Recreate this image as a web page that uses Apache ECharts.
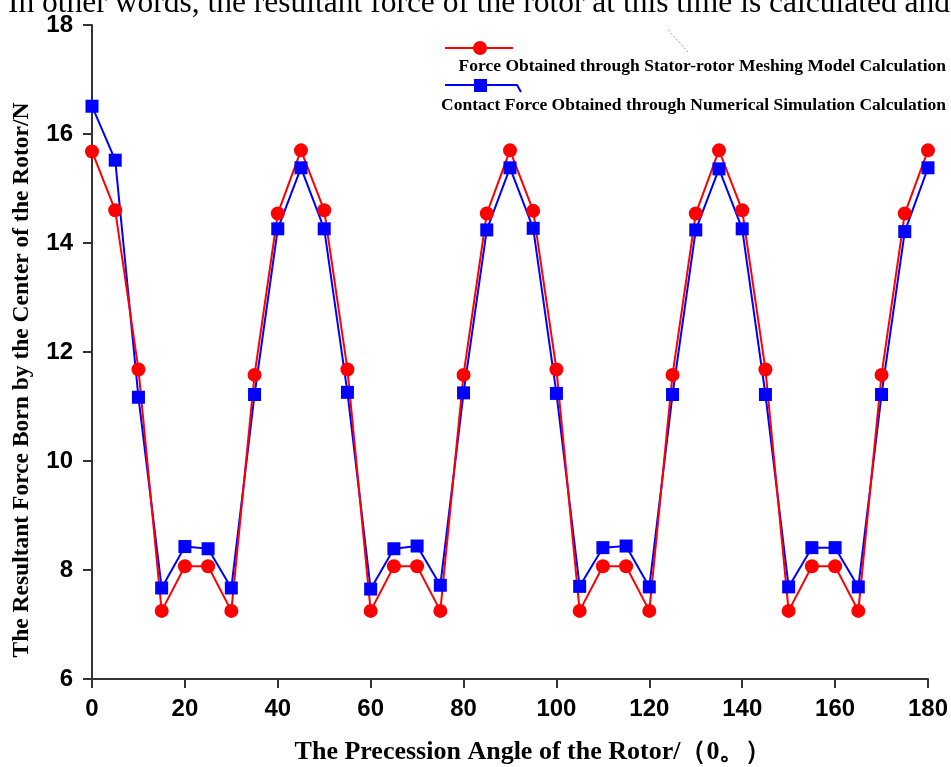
<!DOCTYPE html>
<html>
<head>
<meta charset="utf-8">
<script src="https://cdn.jsdelivr.net/npm/echarts@6/dist/echarts.min.js"></script>
<style>
html,body{margin:0;padding:0;background:#fff;}
#main{width:951px;height:767px;}
</style>
</head>
<body>
<div id="main"></div>
<script>
// Precession angle (degrees)
var angles = [0,5,10,15,20,25,30,35,40,45,50,55,60,65,70,75,80,85,90,95,100,105,110,115,120,125,130,135,140,145,150,155,160,165,170,175,180];
// Force from stator-rotor meshing model (N)
var meshingForce = [15.68,14.60,11.68,7.25,8.07,8.07,7.25,11.58,14.54,15.70,14.60,11.68,7.25,8.07,8.07,7.25,11.58,14.54,15.70,14.59,11.68,7.25,8.07,8.07,7.25,11.58,14.54,15.70,14.60,11.68,7.25,8.07,8.07,7.25,11.58,14.54,15.70];
// Contact force from numerical simulation (N)
var simulationForce = [16.51,15.52,11.17,7.67,8.43,8.39,7.67,11.22,14.26,15.38,14.26,11.26,7.65,8.39,8.44,7.72,11.25,14.24,15.38,14.27,11.24,7.70,8.41,8.44,7.69,11.22,14.24,15.36,14.26,11.22,7.69,8.41,8.41,7.69,11.22,14.21,15.38];
var xTicks = [0,20,40,60,80,100,120,140,160,180];
var yTicks = [6,8,10,12,14,16,18];
var seriesNames = ['Force Obtained through Stator-rotor Meshing Model Calculation','Contact Force Obtained through Numerical Simulation Calculation'];
var xTitle = 'The Precession Angle of the Rotor/（0。）';
var yTitle = 'The Resultant Force Born by the Center of the Rotor/N';
var topText = 'In other words, the resultant force of the rotor at this time is calculated and';

function pairs(xs, ys){ return xs.map(function(x,i){ return [x, ys[i]]; }); }

var chart = echarts.init(document.getElementById('main'), null, {renderer:'canvas'});
var tickFont = {fontFamily:'Liberation Sans', fontWeight:'bold', fontSize:24, color:'#000'};
var option = {
  backgroundColor:'#fff',
  animation:false,
  grid:{left:92, right:23, top:25, bottom:88},
  xAxis:{
    type:'value', min:xTicks[0], max:xTicks[xTicks.length-1], interval:20,
    axisLine:{lineStyle:{color:'#333', width:2}},
    axisTick:{length:9, lineStyle:{color:'#333', width:2}},
    axisLabel:Object.assign({margin:18}, tickFont),
    splitLine:{show:false}
  },
  yAxis:{
    type:'value', min:yTicks[0], max:yTicks[yTicks.length-1], interval:2,
    axisLine:{show:true, lineStyle:{color:'#333', width:2}},
    axisTick:{show:true, length:9, lineStyle:{color:'#333', width:2}},
    axisLabel:Object.assign({margin:19}, tickFont),
    splitLine:{show:false}
  },
  series:[
    {
      name:seriesNames[1], type:'line', data:pairs(angles, simulationForce),
      symbol:'rect', symbolSize:13,
      lineStyle:{color:'#0000ff', width:2},
      itemStyle:{color:'#0000ff'}
    },
    {
      name:seriesNames[0], type:'line', data:pairs(angles, meshingForce),
      symbol:'circle', symbolSize:14,
      lineStyle:{color:'#ff0000', width:2},
      itemStyle:{color:'#ff0000'}
    }
  ],
  graphic:[
    {type:'text', left:8, top:-12, style:{text:topText, font:'31.5px "Liberation Serif"', fill:'#000'}},
    // faint artifact near legend
    {type:'line', shape:{x1:668, y1:30, x2:688, y2:52}, style:{stroke:'#999', lineWidth:1, lineDash:[2,2]}},
    // legend entry 1
    {type:'line', shape:{x1:445, y1:48, x2:513, y2:48}, style:{stroke:'#ff0000', lineWidth:2}},
    {type:'circle', shape:{cx:480, cy:48, r:7}, style:{fill:'#ff0000'}},
    {type:'text', style:{text:seriesNames[0], x:946, y:66, align:'right', verticalAlign:'middle', font:'bold 17.5px "Liberation Serif"', fill:'#000'}},
    // legend entry 2
    {type:'polyline', shape:{points:[[445,85],[517,85],[521,92]]}, style:{stroke:'#0000ff', lineWidth:2, fill:null}},
    {type:'rect', shape:{x:474, y:79, width:13, height:13}, style:{fill:'#0000ff'}},
    {type:'text', style:{text:seriesNames[1], x:946, y:105, align:'right', verticalAlign:'middle', font:'bold 17.5px "Liberation Serif"', fill:'#000'}},
    // axis titles
    {type:'text', style:{text:xTitle, x:533, y:752, align:'center', verticalAlign:'middle', font:'bold 26px "Liberation Serif"', fill:'#000'}},
    {type:'text', rotation:Math.PI/2, x:22, y:380, style:{text:yTitle, x:0, y:0, align:'center', verticalAlign:'middle', font:'bold 23.5px "Liberation Serif"', fill:'#000'}}
  ]
};
chart.setOption(option);
</script>
</body>
</html>
